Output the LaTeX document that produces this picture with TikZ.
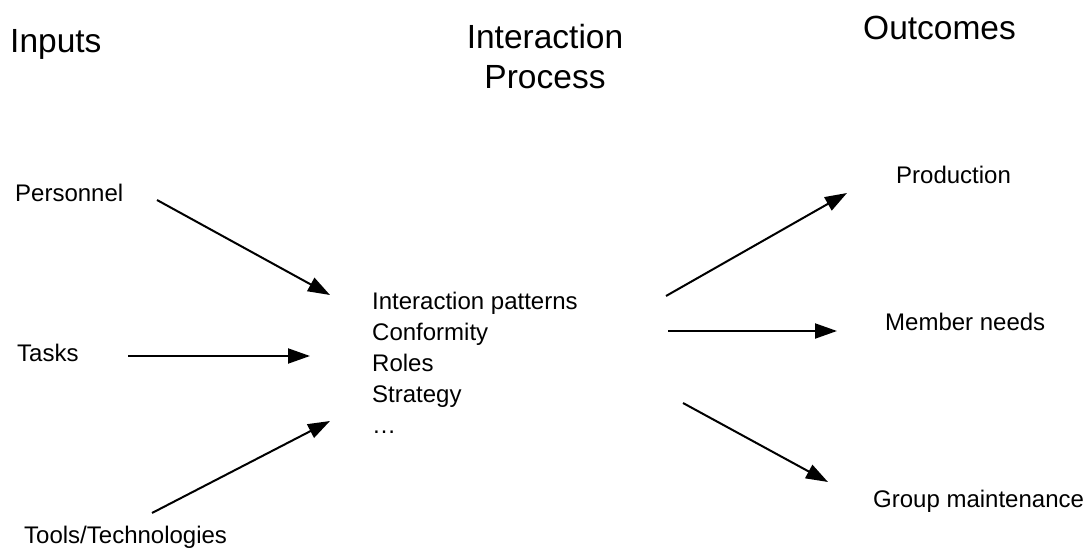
\documentclass[tikz,border=0pt]{standalone}
\usepackage{fontspec}
\setmainfont{Liberation Sans}
\usetikzlibrary{arrows.meta,positioning}
\tikzset{
  ipo/head/.style={inner sep=0pt, font=\fontsize{33.5}{40}\selectfont, align=center},
  ipo/item/.style={inner sep=0pt, font=\fontsize{24}{31}\selectfont, align=left},
  ipo/flow/.style={line width=2pt, -{Triangle[length=22pt,width=15pt]}}
}

\begin{document}
\begin{tikzpicture}[x=1pt, y=-1pt]
  \useasboundingbox (0,0) rectangle (1087,548);

  % column headings
  \node[ipo/head, anchor=base west] (inputs) at (10,53) {Inputs};
  \node[ipo/head] (process) at (545,57) {Interaction\\Process};
  \node[ipo/head, anchor=base west] (outcomes) at (863,40) {Outcomes};

  % inputs
  \node[ipo/item, anchor=base west] (personnel) at (15,202) {Personnel};
  \node[ipo/item, anchor=base west] (tasks) at (17,361) {Tasks};
  \node[ipo/item, anchor=base west] (tools) at (24,543) {Tools/Technologies};

  % interaction process
  \node[ipo/item, anchor=north west] (patterns) at (372,292)
    {Interaction patterns\\Conformity\\Roles\\Strategy\\\dots};

  % outcomes
  \node[ipo/item, anchor=base west] (production) at (896,184) {Production};
  \node[ipo/item, anchor=base west] (needs) at (885,330) {Member needs};
  \node[ipo/item, anchor=base west] (upkeep) at (873,507) {Group maintenance};

  % arrow ends
  \coordinate (personnel-out) at (157,200);
  \coordinate (personnel-in) at (330,295);
  \coordinate (tasks-out) at (128,356);
  \coordinate (tasks-in) at (310,356);
  \coordinate (tools-out) at (152,513);
  \coordinate (tools-in) at (330,421);
  \coordinate (production-out) at (666,296);
  \coordinate (production-in) at (847,193);
  \coordinate (needs-out) at (668,331);
  \coordinate (needs-in) at (837,331);
  \coordinate (upkeep-out) at (683,403);
  \coordinate (upkeep-in) at (828,482);

  \draw[ipo/flow] (personnel-out) -- (personnel-in);
  \draw[ipo/flow] (tasks-out) -- (tasks-in);
  \draw[ipo/flow] (tools-out) -- (tools-in);
  \draw[ipo/flow] (production-out) -- (production-in);
  \draw[ipo/flow] (needs-out) -- (needs-in);
  \draw[ipo/flow] (upkeep-out) -- (upkeep-in);
\end{tikzpicture}
\end{document}
